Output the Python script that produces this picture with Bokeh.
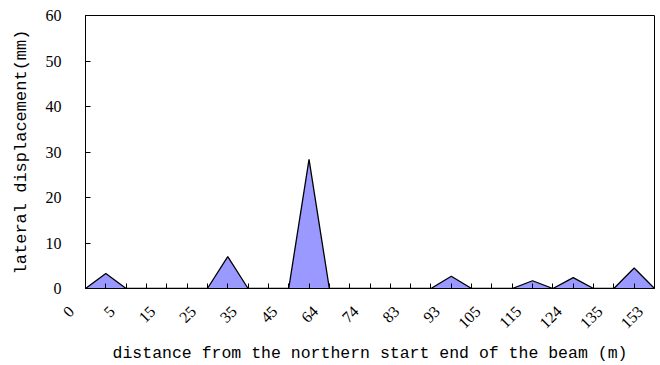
import math
from bokeh.plotting import figure
from bokeh.models import Range1d, FixedTicker
from bokeh.embed import file_html
from bokeh.resources import INLINE

# Category tick labels (shown on every second category)
distance_labels = ["0", "5", "15", "25", "35", "45", "64", "74", "83",
                   "93", "105", "115", "124", "135", "153"]
# Lateral displacement (mm) at each of the 29 category positions
displacement = [0, 3.3, 0, 0, 0, 0, 0, 7.0, 0, 0, 0, 28.4, 0, 0, 0, 0, 0, 0,
                2.7, 0, 0, 0, 1.7, 0, 2.4, 0, 0, 4.5, 0]
y_ticks = [0, 10, 20, 30, 40, 50, 60]

n = len(displacement)
xs = list(range(n))

p = figure(width=660, height=365, output_backend="svg", toolbar_location=None,
           x_range=Range1d(0, n - 1), y_range=Range1d(0, 60),
           min_border_left=85, min_border_right=6, min_border_top=15,
           min_border_bottom=77)
p.background_fill_color = "white"
p.border_fill_color = "white"
p.outline_line_color = "black"
p.outline_line_width = 1
p.grid.visible = False

p.varea(x=xs, y1=[0] * n, y2=displacement, fill_color="#9999FF")
p.line(x=xs, y=displacement, line_color="black", line_width=1.3)

pad = "\u00a0" * 5  # shifts rotated labels left like the original's placement
overrides = {}
for i in xs:
    overrides[i] = (distance_labels[i // 2] + pad) if i % 2 == 0 else ""

xa = p.xaxis[0]
xa.ticker = FixedTicker(ticks=xs)
xa.major_label_overrides = overrides
xa.major_label_orientation = math.pi / 4
xa.minor_tick_line_color = None
xa.major_tick_in = 5
xa.major_tick_out = 0
xa.axis_line_color = "black"
xa.major_tick_line_color = "black"
xa.major_label_text_font = "Liberation Serif"
xa.major_label_text_font_size = "16px"
xa.major_label_text_color = "black"
xa.major_label_standoff = 6
xa.axis_label = "distance from the northern start end of the beam (m)"
xa.axis_label_text_font = "Liberation Mono"
xa.axis_label_text_font_size = "16.5px"
xa.axis_label_text_font_style = "normal"
xa.axis_label_text_color = "black"
xa.axis_label_standoff = 3

ya = p.yaxis[0]
ya.ticker = FixedTicker(ticks=y_ticks)
ya.minor_tick_line_color = None
ya.major_tick_in = 5
ya.major_tick_out = 0
ya.axis_line_color = "black"
ya.major_tick_line_color = "black"
ya.major_label_text_font = "Liberation Serif"
ya.major_label_text_font_size = "16px"
ya.major_label_text_color = "black"
ya.major_label_standoff = 24
ya.axis_label = "lateral displacement(mm)"
ya.axis_label_text_font = "Liberation Mono"
ya.axis_label_text_font_size = "17px"
ya.axis_label_text_font_style = "normal"
ya.axis_label_text_color = "black"
ya.axis_label_standoff = 12

open("out.html", "w").write(file_html(p, INLINE))
